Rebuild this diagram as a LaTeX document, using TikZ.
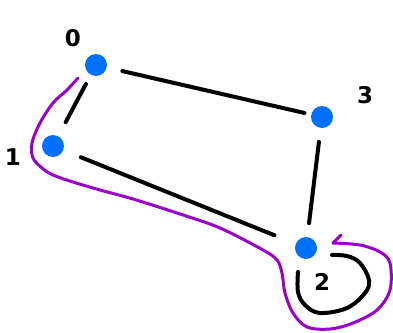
\documentclass[tikz,border=0pt]{standalone}
\usepackage{fontspec}
\setsansfont{DejaVu Sans}
\definecolor{nodeblue}{RGB}{0,112,255}
\definecolor{walkpurple}{RGB}{153,0,204}
\begin{document}
\begin{tikzpicture}[x=1pt,y=-1pt,
  vertex/.style={circle,fill=nodeblue,minimum size=22pt,inner sep=0pt,outer sep=0pt},
  edge/.style={line width=4pt,line cap=round,line join=round},
  walk/.style={line width=3pt,color=walkpurple,line cap=round,line join=round},
  numlabel/.style={font=\sffamily\bfseries\fontsize{23}{23}\selectfont,inner sep=0pt}]
\useasboundingbox (0,0) rectangle (393,332);

% vertices
\node[vertex] (v0) at (96,65) {};
\node[vertex] (v1) at (53,146) {};
\node[vertex] (v2) at (306,248) {};
\node[vertex] (v3) at (322,117) {};

% vertex numbers
\node[numlabel] (l0) at (73,38) {0};
\node[numlabel] (l1) at (13,157) {1};
\node[numlabel] (l2) at (322,282) {2};
\node[numlabel] (l3) at (365,95) {3};

% edges
\draw[edge,shorten <=10.5pt,shorten >=16pt] (v0) -- (v1);
\draw[edge,shorten <=16pt,shorten >=7pt] (v0) -- (v3);
\draw[edge,shorten <=14pt,shorten >=14pt] (v3) -- (v2);
\draw[edge,shorten <=19pt,shorten >=23pt] (v1) -- (v2);

% self-loop on vertex 2
\draw[edge] plot[smooth,tension=0.6] coordinates {
  (298,272) (298,292) (305,305) (320,313) (347,308) (365,293)
  (369,280) (360,263) (347,256) (332,255)};

% walk 0 -> 1 -> 2 -> 2
\draw[walk] plot[smooth,tension=0.55] coordinates {
  (78,78) (67,90) (53,103) (40,123) (32,143) (33,158) (42,168)
  (53,175) (73,182) (100,190) (133,199) (180,214) (220,228)
  (263,250) (277,260) (282,273) (285,293) (293,313) (307,327)
  (330,329) (353,323) (377,310) (390,290) (390,263) (380,252)
  (360,245) (333,243)};
\coordinate (tip) at (333,243);
\draw[walk] (tip) -- ++(8,-8);
\end{tikzpicture}
\end{document}
